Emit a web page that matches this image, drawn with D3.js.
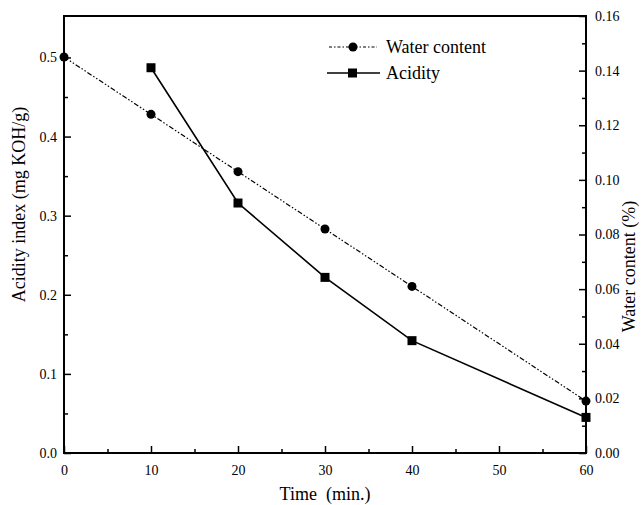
<!DOCTYPE html>
<html>
<head>
<meta charset="utf-8">
<script src="https://cdn.jsdelivr.net/npm/d3@7"></script>
<style>
  body { margin: 0; background: #fff; }
</style>
</head>
<body>
<div id="chart"></div>
<script>
// values
const waterTime = [0, 10, 20, 30, 40, 60];
const waterContent = [0.145, 0.124, 0.103, 0.082, 0.061, 0.019];
const acidTime = [10, 20, 30, 40, 60];
const acidity = [0.487, 0.316, 0.222, 0.142, 0.045];

const xTicks = [0, 10, 20, 30, 40, 50, 60];
const leftTicks = [0.0, 0.1, 0.2, 0.3, 0.4, 0.5];
const rightTicks = [0.00, 0.02, 0.04, 0.06, 0.08, 0.10, 0.12, 0.14, 0.16];

const FONT = "'Liberation Serif', 'DejaVu Serif', 'Times New Roman', serif";
const width = 642, height = 505;
const margin = { top: 16, right: 56, bottom: 52, left: 64 };

const svg = d3.select("#chart").append("svg")
  .attr("width", width)
  .attr("height", height)
  .attr("font-family", FONT);

const x = d3.scaleLinear().domain([0, 60]).range([margin.left, width - margin.right]);
const yL = d3.scaleLinear().domain([0, 0.5524]).range([height - margin.bottom, margin.top]);
const yR = d3.scaleLinear().domain([0, 0.16]).range([height - margin.bottom, margin.top]);

const x0 = x.range()[0], x1 = x.range()[1];
const yb = yL.range()[0], yt = yL.range()[1];

// frame
svg.append("rect")
  .attr("x", x0).attr("y", yt)
  .attr("width", x1 - x0).attr("height", yb - yt)
  .attr("fill", "none").attr("stroke", "#000").attr("stroke-width", 2);

// inward ticks helper
function styleAxis(g) {
  g.attr("font-family", null);
  g.select(".domain").remove();
  g.selectAll("line").attr("stroke-width", 1.5);
  g.selectAll("text").attr("font-size", 14).attr("fill", "#000");
}

// bottom axis
svg.append("g").attr("transform", `translate(0,${yb})`)
  .call(d3.axisBottom(x).tickValues(xTicks).tickSize(-7).tickPadding(12).tickFormat(d3.format("d")))
  .call(styleAxis);
svg.append("g").attr("transform", `translate(0,${yb})`)
  .call(d3.axisBottom(x).tickValues([5, 15, 25, 35, 45, 55]).tickSize(-4).tickFormat(""))
  .call(styleAxis);

// left axis
svg.append("g").attr("transform", `translate(${x0},0)`)
  .call(d3.axisLeft(yL).tickValues(leftTicks).tickSize(-7).tickPadding(7).tickFormat(d3.format(".1f")))
  .call(styleAxis);
svg.append("g").attr("transform", `translate(${x0},0)`)
  .call(d3.axisLeft(yL).tickValues([0.05, 0.15, 0.25, 0.35, 0.45]).tickSize(-4).tickFormat(""))
  .call(styleAxis);

// right axis
svg.append("g").attr("transform", `translate(${x1},0)`)
  .call(d3.axisRight(yR).tickValues(rightTicks).tickSize(-7).tickPadding(9).tickFormat(d3.format(".2f")))
  .call(styleAxis);
svg.append("g").attr("transform", `translate(${x1},0)`)
  .call(d3.axisRight(yR).tickValues([0.01, 0.03, 0.05, 0.07, 0.09, 0.11, 0.13, 0.15]).tickSize(-4).tickFormat(""))
  .call(styleAxis);

// axis titles
svg.append("text")
  .attr("x", (x0 + x1) / 2).attr("y", 500)
  .attr("text-anchor", "middle").attr("font-size", 18)
  .attr("xml:space", "preserve")
  .text("Time  (min.)");

svg.append("text")
  .attr("transform", `translate(21,${(yt + yb) / 2 - 30}) rotate(-90)`)
  .attr("text-anchor", "middle").attr("dominant-baseline", "middle").attr("font-size", 18)
  .text("Acidity index (mg KOH/g)");

svg.append("text")
  .attr("transform", `translate(631,${(yt + yb) / 2 + 32}) rotate(-90)`)
  .attr("text-anchor", "middle").attr("dominant-baseline", "middle").attr("font-size", 18)
  .text("Water content (%)");

// water content series
const waterPts = waterTime.map((t, i) => [x(t), yR(waterContent[i])]);
svg.append("path")
  .attr("d", d3.line()(waterPts))
  .attr("fill", "none").attr("stroke", "#000").attr("stroke-width", 1.2)
  .attr("stroke-dasharray", "5,2,1.5,2,1.5,2");
svg.selectAll("circle.water").data(waterPts).enter().append("circle")
  .attr("class", "water")
  .attr("cx", d => d[0]).attr("cy", d => d[1]).attr("r", 4.5).attr("fill", "#000");

// acidity series
const acidPts = acidTime.map((t, i) => [x(t), yL(acidity[i])]);
svg.append("path")
  .attr("d", d3.line()(acidPts))
  .attr("fill", "none").attr("stroke", "#000").attr("stroke-width", 1.6);
svg.selectAll("rect.acid").data(acidPts).enter().append("rect")
  .attr("class", "acid")
  .attr("x", d => d[0] - 4.5).attr("y", d => d[1] - 4.5)
  .attr("width", 9).attr("height", 9).attr("fill", "#000");

// legend
const lg = svg.append("g");
lg.append("line").attr("x1", 329).attr("x2", 377).attr("y1", 47).attr("y2", 47)
  .attr("stroke", "#000").attr("stroke-width", 1.2).attr("stroke-dasharray", "3,2,1.5,2");
lg.append("circle").attr("cx", 353).attr("cy", 47).attr("r", 4.5).attr("fill", "#000");
lg.append("text").attr("x", 386).attr("y", 53).attr("font-size", 18).text("Water content");
lg.append("line").attr("x1", 327).attr("x2", 380).attr("y1", 73).attr("y2", 73)
  .attr("stroke", "#000").attr("stroke-width", 1.6);
lg.append("rect").attr("x", 348).attr("y", 68.5).attr("width", 9).attr("height", 9).attr("fill", "#000");
lg.append("text").attr("x", 386).attr("y", 79).attr("font-size", 18).text("Acidity");

svg.selectAll("text").style("font-family", FONT);
</script>
</body>
</html>
